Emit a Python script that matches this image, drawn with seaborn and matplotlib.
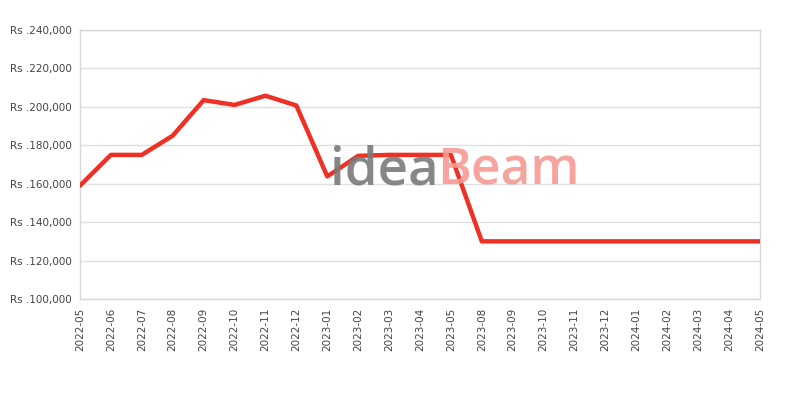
import numpy as np
import pandas as pd
import matplotlib
matplotlib.use("Agg")
import matplotlib.pyplot as plt
import seaborn as sns

months = ["2022-05", "2022-06", "2022-07", "2022-08", "2022-09", "2022-10",
          "2022-11", "2022-12", "2023-01", "2023-02", "2023-03", "2023-04",
          "2023-05", "2023-08", "2023-09", "2023-10", "2023-11", "2023-12",
          "2024-01", "2024-02", "2024-03", "2024-04", "2024-05"]
prices = [159000, 175000, 175000, 185000, 203500, 201000,
          205800, 200700, 163800, 174500, 175000, 175000,
          175000, 130000, 130000, 130000, 130000, 130000,
          130000, 130000, 130000, 130000, 130000]

df = pd.DataFrame({"month": months, "price": prices})
df["pos"] = np.arange(len(df))

sns.set_style("white")
plt.rcParams["font.family"] = ["DejaVu Sans"]

fig = plt.figure(figsize=(8, 4), dpi=100)
ax = fig.add_axes([0.1, 0.2525, 0.85, 0.6725])

# watermark
fig.text(0.412, 0.573, "idea", fontsize=38, color="#7a7a7a", alpha=0.9,
         ha="left", va="center", zorder=0, fontweight="semibold",
         family="Open Sans")
fig.text(0.546, 0.573, "Beam", fontsize=37, color="#f59a93", alpha=0.9,
         ha="left", va="center", zorder=0, fontweight="semibold",
         family="Open Sans")

sns.lineplot(data=df, x="pos", y="price", ax=ax, color="#ee3124",
             linewidth=3.2, zorder=3)

ax.set_xlim(0, len(months) - 1)
ax.set_ylim(100000, 240000)
ax.set_yticks(np.arange(100000, 240001, 20000))
ax.set_yticklabels([f"Rs .{v:,}" for v in range(100000, 240001, 20000)])
ax.set_xticks(df["pos"])
ax.set_xticklabels(months, rotation=90)
ax.set_xlabel("")
ax.set_ylabel("")
ax.patch.set_alpha(0)

ax.grid(axis="y", color="#e0e0e0", linewidth=1)
ax.tick_params(axis="both", length=0, labelsize=7.5, colors="#444444", pad=6)
for s in ax.spines.values():
    s.set_color("#d8d8d8")
    s.set_linewidth(1)

fig.savefig("out.png", dpi=100)
